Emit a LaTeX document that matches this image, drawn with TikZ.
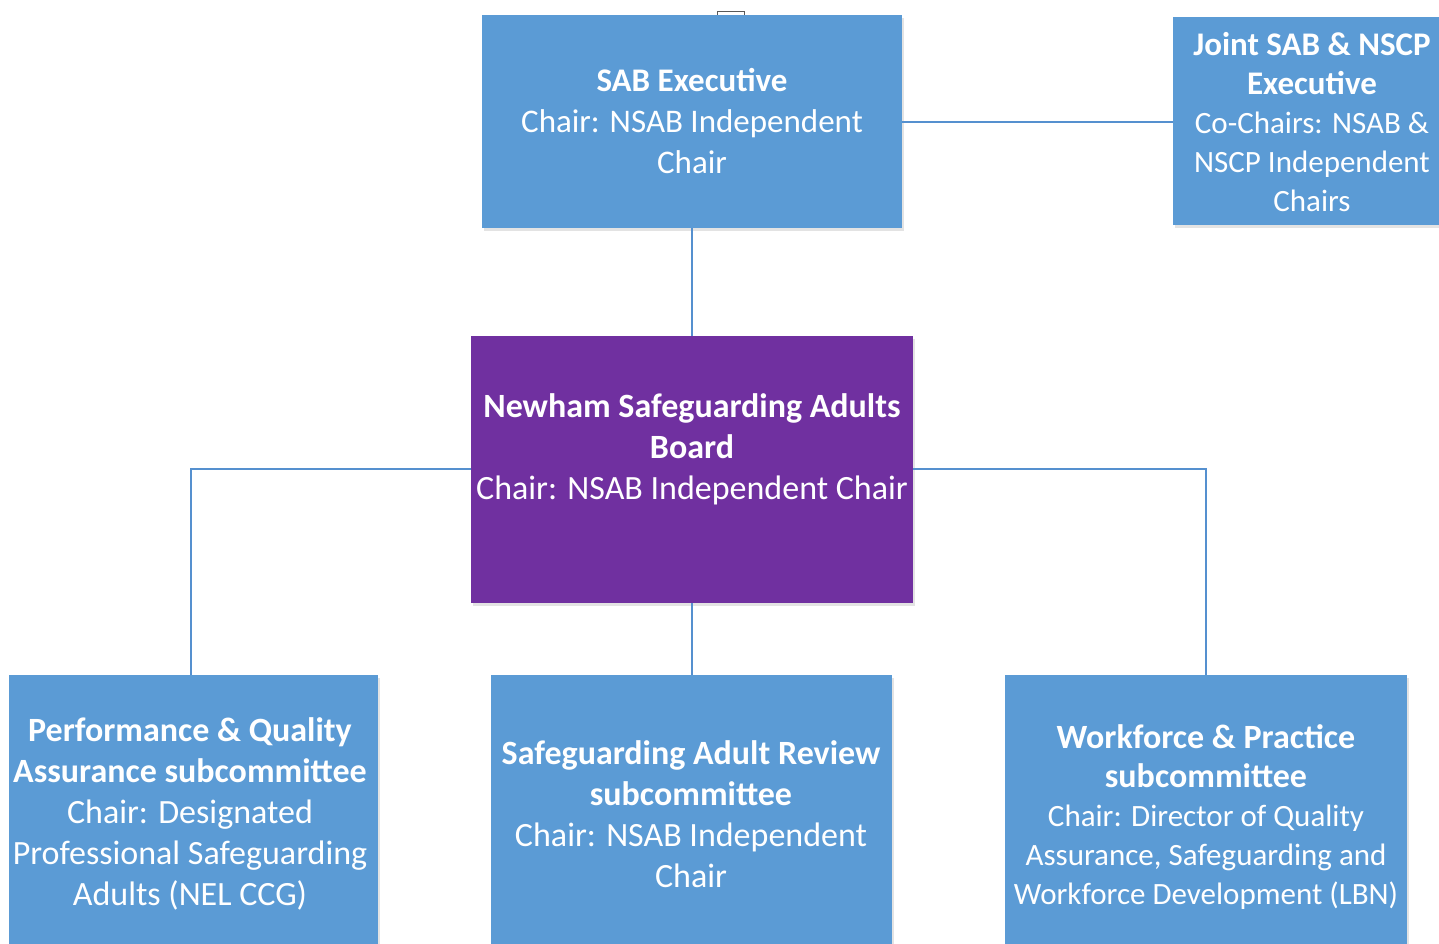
\documentclass[tikz,border=0pt]{standalone}
\usepackage{fontspec}
\setmainfont{Carlito}
\usetikzlibrary{shadows,calc}
\definecolor{boxblue}{HTML}{5B9BD5}
\definecolor{boardpurple}{HTML}{7030A0}
\definecolor{linkblue}{HTML}{5590CF}
\tikzset{
  orgbox/.style={fill=boxblue, draw=none, anchor=north west, inner sep=0pt,
    drop shadow={shadow xshift=2pt, shadow yshift=-3pt, opacity=0.18, fill=black!60}},
  boardbox/.style={orgbox, fill=boardpurple},
  boxtext/.style={text=white, align=center, font=\fontsize{34}{40}\selectfont, inner sep=0pt},
  link/.style={draw=linkblue, line width=2pt},
}
\newcommand{\smallline}[1]{{\fontsize{31}{39}\selectfont #1}}
\begin{document}
\begin{tikzpicture}[x=1pt,y=-1pt]
\useasboundingbox (0,0) rectangle (1439,943);
\fill[white] (0,0) rectangle (1439,943);

% small handle above the executive box
\draw[black!65, line width=1pt] (717,16) -- (717,11.5) -- (744,11.5) -- (744,16);

% elbow points of the side connectors
\coordinate (lft) at (191,469);
\coordinate (rgt) at (1206,469);

% boxes
\node[orgbox, minimum width=420pt, minimum height=213pt] (sab) at (482,15) {};
\node[orgbox, minimum width=280pt, minimum height=208pt] (joint) at (1173,17) {};
\node[boardbox, minimum width=442pt, minimum height=267pt] (board) at (471,336) {};
\node[orgbox, minimum width=369pt, minimum height=290pt] (pqa) at (9,675) {};
\node[orgbox, minimum width=401pt, minimum height=290pt] (sar) at (491,675) {};
\node[orgbox, minimum width=402pt, minimum height=290pt] (wfp) at (1005,675) {};

% connectors
\draw[link] (sab.east |- 0,122) -- (joint.west |- 0,122);
\draw[link] (sab.south -| 692,0) -- (board.north -| 692,0);
\draw[link] (board.south -| 692,0) -- (sar.north -| 692,0);
\draw[link] (board.west |- lft) -- (lft) -- (pqa.north -| lft);
\draw[link] (board.east |- rgt) -- (rgt) -- (wfp.north -| rgt);

% box texts
\node[boxtext, font=\fontsize{33}{41}\selectfont] (sabt) at (692,121) {\textbf{SAB Executive}\\Chair: NSAB Independent\\Chair};
\node[boxtext, font=\fontsize{33}{39}\selectfont] (jointt) at (1312,122) {\textbf{Joint SAB \& NSCP}\\\textbf{Executive}\\\smallline{Co-Chairs: NSAB \&}\\\smallline{NSCP Independent}\\\smallline{Chairs}};
\node[boxtext, font=\fontsize{34}{41}\selectfont] (boardt) at (692,449) {\textbf{Newham Safeguarding Adults}\\\textbf{Board}\\Chair: NSAB Independent Chair};
\node[boxtext, font=\fontsize{34}{41}\selectfont] (pqat) at (190,814) {\textbf{Performance \& Quality}\\\textbf{Assurance subcommittee}\\Chair: Designated\\Professional Safeguarding\\Adults (NEL CCG)};
\node[boxtext, font=\fontsize{34}{41}\selectfont] (sart) at (691,814) {\textbf{Safeguarding Adult Review}\\\textbf{subcommittee}\\Chair: NSAB Independent\\Chair};
\node[boxtext, font=\fontsize{34}{39}\selectfont] (wfpt) at (1206,817) {\textbf{Workforce \& Practice}\\\textbf{subcommittee}\\\smallline{Chair: Director of Quality}\\\smallline{Assurance, Safeguarding and}\\\smallline{Workforce Development (LBN)}};
\end{tikzpicture}
\end{document}
